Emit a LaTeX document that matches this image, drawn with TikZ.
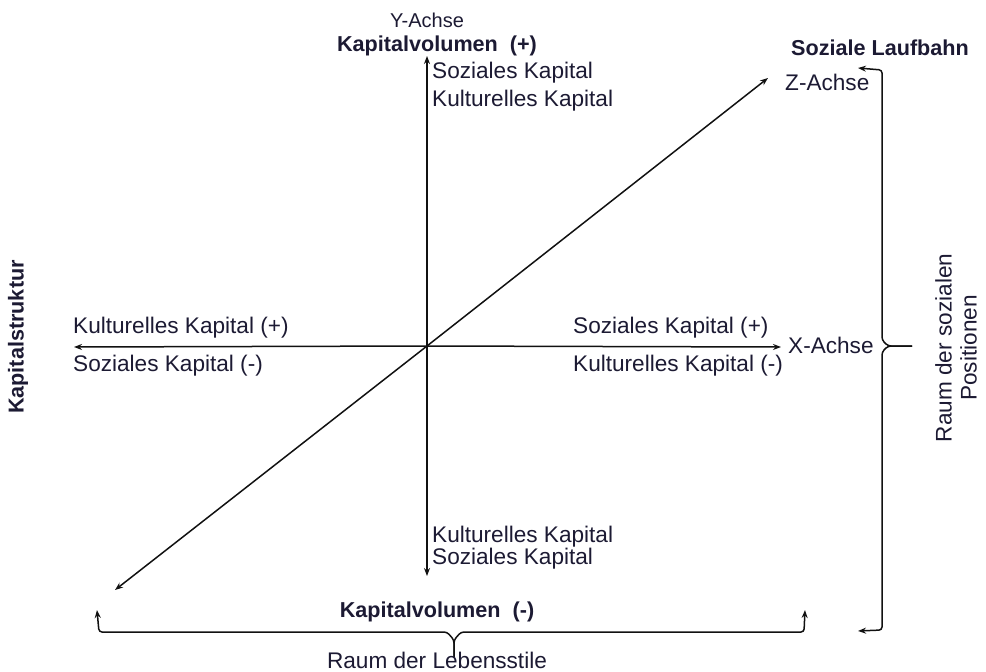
\documentclass[tikz,border=0pt]{standalone}
\usepackage{fontspec}
\setmainfont{Liberation Sans}
\usetikzlibrary{arrows.meta,positioning}
\definecolor{ink}{HTML}{1C1A33}
\definecolor{axgray}{HTML}{111111}

\begin{document}
\begin{tikzpicture}[x=1pt,y=-1pt,>={Stealth[length=8pt,width=6pt]},
  tx/.style={font=\fontsize{22.6}{25}\selectfont,inner sep=1pt,text=ink},
  sm/.style={font=\fontsize{20}{24}\selectfont,inner sep=1pt,text=ink},
  bx/.style={font=\fontsize{21.6}{25}\selectfont\bfseries,inner sep=1pt,text=ink},
  ax/.style={->,line width=1.5pt,axgray},
  br/.style={->,line width=1.5pt,axgray,rounded corners=3pt}]
\useasboundingbox (0,0) rectangle (986,672);

% axes
\coordinate (o) at (427,346);
\coordinate (yp) at (427,56);
\coordinate (ym) at (427,576);
\coordinate (xp) at (781,347);
\coordinate (xm) at (74,347);
\coordinate (zp) at (768,78);
\coordinate (zm) at (115,590);
\draw[ax] (o) -- (yp);
\draw[ax] (o) -- (ym);
\draw[ax] (o) -- (xp);
\draw[ax] (o) -- (xm);
\draw[ax] (o) -- (zp);
\draw[ax] (o) -- (zm);

% labels at the axes
\node[sm] (yl) at (427,20) {Y-Achse};
\node[bx] (kvp) at (437,46) {Kapitalvolumen\ \ (+)};
\node[tx,anchor=west,align=left] (top) at (431,87) {Soziales Kapital\\[3pt]Kulturelles Kapital};
\node[bx] (sl) at (880,48) {Soziale Laufbahn};
\node[tx,anchor=west] (zl) at (784,82) {Z-Achse};
\node[tx,anchor=west] (xl) at (787,345) {X-Achse};
\node[tx,anchor=west] (kkp) at (72,328) {Kulturelles Kapital (+)};
\node[tx,anchor=west] (skm) at (72,366) {Soziales Kapital (-)};
\node[tx,anchor=west] (skp) at (572,328) {Soziales Kapital (+)};
\node[tx,anchor=west] (kkm) at (572,366) {Kulturelles Kapital (-)};
\node[tx,anchor=west,align=left,font=\fontsize{22.6}{20}\selectfont] (bot) at (431,548) {Kulturelles Kapital\\Soziales Kapital};
\node[bx] (kvm) at (437,612) {Kapitalvolumen\ \ (-)};
\node[bx,rotate=90] (ks) at (18,337) {Kapitalstruktur};

% braces
\coordinate (bl) at (97,610);
\coordinate (bre) at (805,610);
\coordinate (bc) at (454,657);
\draw[br] (bc) -- (454,640) -- (447,632) -- (99,632) -- (bl);
\draw[br] (bc) -- (454,640) -- (461,632) -- (804,632) -- (bre);
\node[tx] (rl) at (437,660) {Raum der Lebensstile};

\coordinate (rt) at (858,68);
\coordinate (rb) at (858,631);
\coordinate (rc) at (912,346);
\draw[br] (rc) -- (888,346) -- (882,340) -- (882,70) -- (rt);
\draw[br] (rc) -- (888,346) -- (882,352) -- (882,630) -- (rb);
\node[tx,rotate=90,align=center] (rsp) at (956,348) {Raum der sozialen\\Positionen};
\end{tikzpicture}
\end{document}
